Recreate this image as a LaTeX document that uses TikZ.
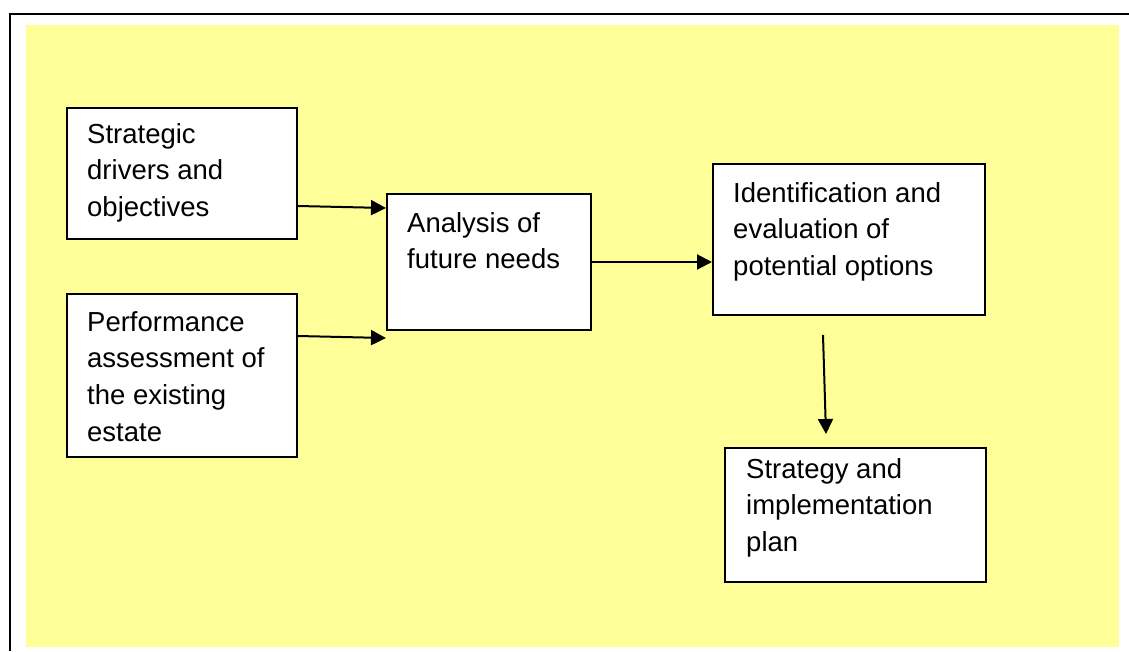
\documentclass[tikz,border=0pt]{standalone}
\usepackage{fontspec}
\setmainfont{Liberation Sans}
\usetikzlibrary{arrows.meta}
\definecolor{bgyellow}{HTML}{FFFF99}
\begin{document}
\begin{tikzpicture}[x=1pt,y=-1pt,
  box/.style={draw=black,line width=2pt,fill=white,inner sep=0pt,anchor=north west},
  txt/.style={anchor=north west,inner sep=0pt,align=left,font=\fontsize{27.5}{36.8}\selectfont},
  arr/.style={line width=2pt,-{Triangle[length=15pt,width=15pt]}}]
\useasboundingbox (0,0) rectangle (1129,651);
% outer frame (partial) and yellow background
\draw[line width=2.3pt,black] (10,651) -- (10,14) -- (1129,14);
\fill[bgyellow] (26,25) rectangle (1119,647);
% boxes
\node[box,minimum width=230pt,minimum height=131pt] (s1) at (66,107) {};
\node[box,minimum width=230pt,minimum height=163pt] (s2) at (66,293) {};
\node[box,minimum width=204pt,minimum height=136pt] (a3) at (386,193) {};
\node[box,minimum width=272pt,minimum height=151pt] (i4) at (712,163) {};
\node[box,minimum width=261pt,minimum height=134pt] (p5) at (724,447) {};
% texts
\node[txt] (t1) at ([xshift=21pt,yshift=-16pt]s1.north west) {Strategic\\drivers and\\objectives};
\node[txt] (t2) at ([xshift=21pt,yshift=-18pt]s2.north west) {Performance\\assessment of\\the existing\\estate};
\node[txt] (t3) at ([xshift=21pt,yshift=-19pt]a3.north west) {Analysis of\\future needs};
\node[txt] (t4) at ([xshift=21pt,yshift=-19pt]i4.north west) {Identification and\\evaluation of\\potential options};
\node[txt] (t5) at ([xshift=22pt,yshift=-11pt]p5.north west) {Strategy and\\implementation\\plan};
% connectors
\draw[arr] ([yshift=-99pt]s1.north east) -- ([yshift=-15pt]a3.north west);
\draw[arr] ([yshift=-43pt]s2.north east) -- ([yshift=-7pt]a3.south west);
\draw[arr] (a3.east) -- (a3.east -| i4.west);
\coordinate (d1) at (823,335);
\coordinate (d2) at (826,434);
\draw[arr] (d1) -- (d2);
\end{tikzpicture}
\end{document}
